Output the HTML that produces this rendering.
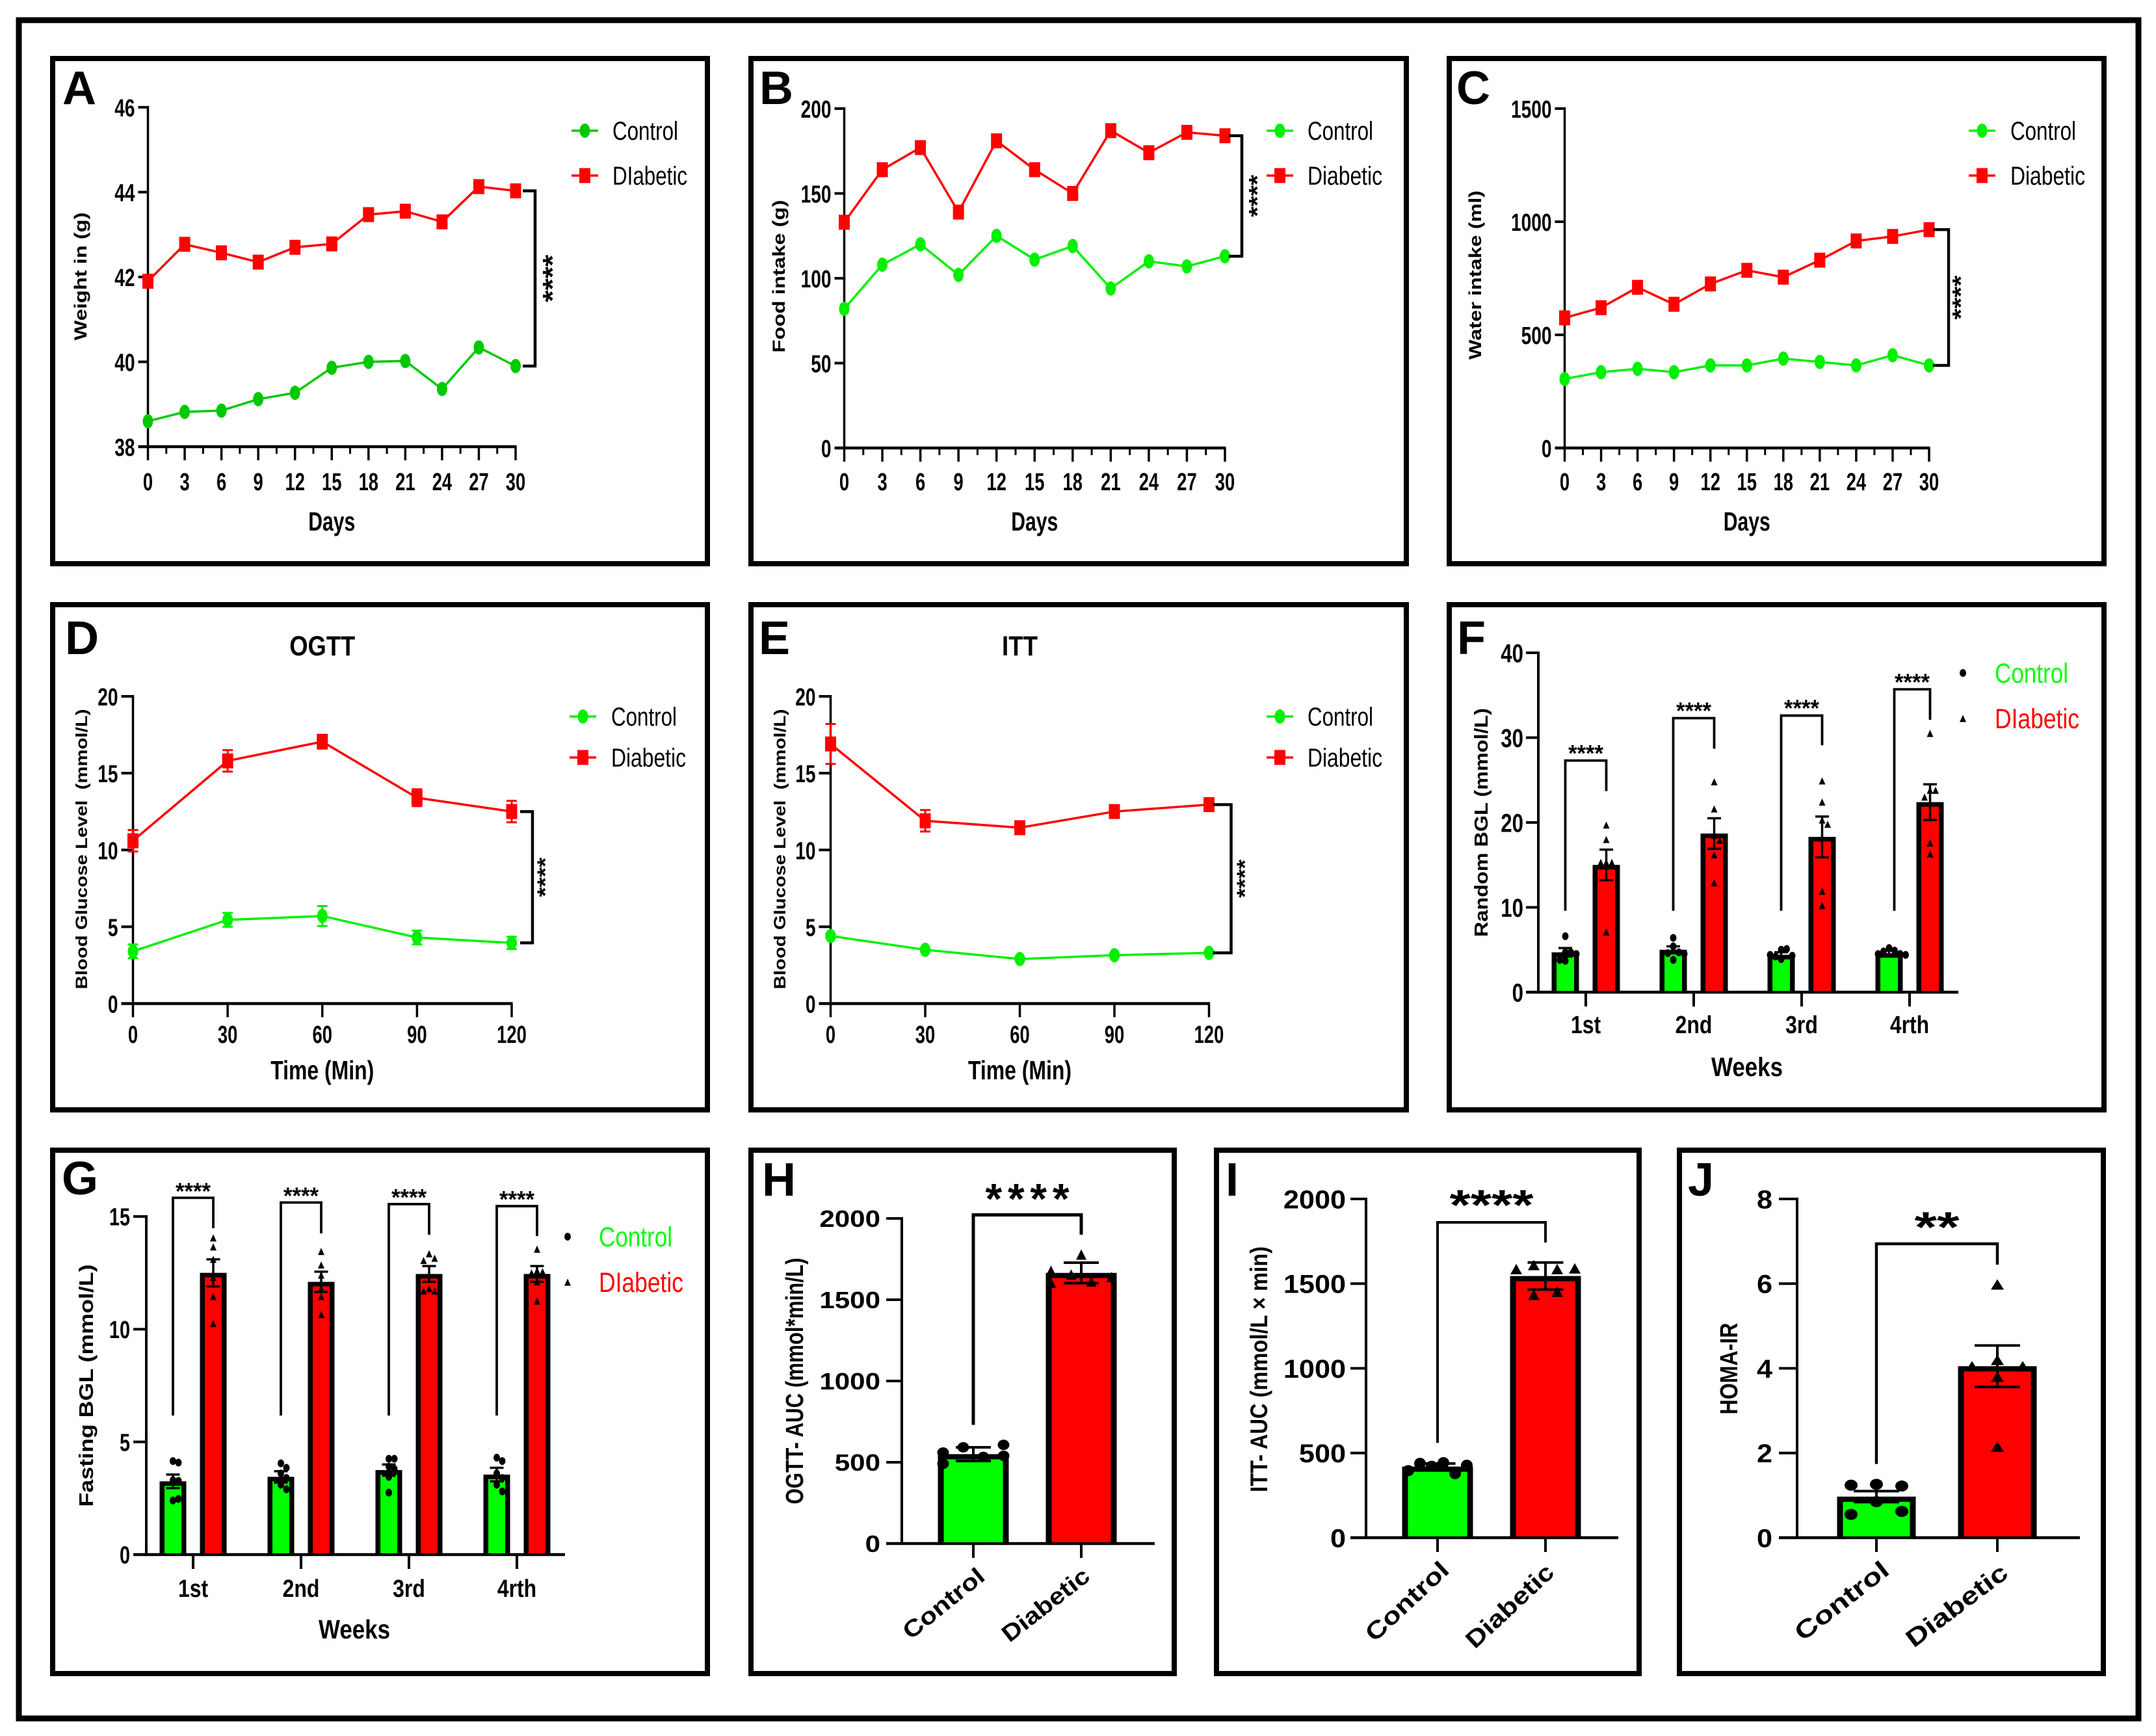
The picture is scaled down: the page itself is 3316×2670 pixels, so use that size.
<!DOCTYPE html>
<html lang="en">
<head>
<meta charset="utf-8">
<title>Diabetic versus control metabolic panels</title>
<style>
html,body{margin:0;padding:0;background:#fff;}
svg{display:block;}
text{font-family:"Liberation Sans",sans-serif;}
</style>
</head>
<body>
<svg id="fig" xmlns="http://www.w3.org/2000/svg" width="3316" height="2670" viewBox="0 0 3316 2670">
  <rect x="0" y="0" width="3316" height="2670" fill="#fff"/>
  <rect x="29" y="31" width="3260" height="2612" fill="none" stroke="#000" stroke-width="9"/>
  <rect x="81" y="90" width="1007" height="777" fill="none" stroke="#000" stroke-width="8"/>
  <rect x="1155" y="90" width="1008" height="777" fill="none" stroke="#000" stroke-width="8"/>
  <rect x="2229" y="90" width="1007" height="777" fill="none" stroke="#000" stroke-width="8"/>
  <rect x="81" y="930" width="1007" height="777" fill="none" stroke="#000" stroke-width="8"/>
  <rect x="1155" y="930" width="1008" height="777" fill="none" stroke="#000" stroke-width="8"/>
  <rect x="2229" y="930" width="1007" height="777" fill="none" stroke="#000" stroke-width="8"/>
  <rect x="81" y="1769" width="1007" height="805" fill="none" stroke="#000" stroke-width="8"/>
  <rect x="1155" y="1769" width="651" height="805" fill="none" stroke="#000" stroke-width="8"/>
  <rect x="1871" y="1769" width="650" height="805" fill="none" stroke="#000" stroke-width="8"/>
  <rect x="2583" y="1769" width="652" height="805" fill="none" stroke="#000" stroke-width="8"/>
</svg>
<script>
/* ---------- chart data ---------- */
const dayTicks = [0,3,6,9,12,15,18,21,24,27,30];
const minuteTicks = [0,30,60,90,120];
const weekLabels = ['1st','2nd','3rd','4rth'];

const weightTicks = [38,40,42,44,46];
const weightControl = [38.6,38.82,38.85,39.12,39.27,39.86,40.0,40.02,39.36,40.34,39.9];
const weightDiabetic = [41.9,42.77,42.57,42.35,42.7,42.78,43.47,43.55,43.3,44.13,44.03];

const foodTicks = [0,50,100,150,200];
const foodControl = [82,108,120,102,125,111,119,94,110,107,113];
const foodDiabetic = [133,164,177,139,181,164,150,187,174,186,184];

const waterTicks = [0,500,1000,1500];
const waterControl = [305,335,350,335,365,365,395,380,365,410,365];
const waterDiabetic = [575,620,710,635,725,785,755,830,915,935,965];

const glucoseTicks = [0,5,10,15,20];
const ogttControl = [3.4,5.45,5.7,4.3,3.95];
const ogttControlErr = [0.45,0.45,0.65,0.45,0.4];
const ogttDiabetic = [10.6,15.8,17.05,13.4,12.5];
const ogttDiabeticErr = [0.7,0.7,0.45,0.55,0.7];
const ittControl = [4.4,3.5,2.9,3.15,3.3];
const ittControlErr = [0.12,0.1,0.1,0.1,0.1];
const ittDiabetic = [16.9,11.9,11.45,12.5,12.95];
const ittDiabeticErr = [1.3,0.7,0.3,0.25,0.25];

const randomTicks = [0,10,20,30,40];
const randomControl = [4.7,5.0,4.4,4.6];
const randomControlErr = [0.5,0.4,0.3,0.3];
const randomDiabetic = [15,18.7,18.3,22.4];
const randomDiabeticErr = [1.8,1.8,2.4,2.1];
const randomControlPoints = [[6.6,4.7,4.7,3.8,3.7,4.5],[6.4,5.4,4.7,3.8,4.6,4.5],[5.0,5.1,4.2,4.3,4.4,3.9],[5.2,4.9,4.8,4.5,4.5,4.4]];
const randomDiabeticPoints = [[19.7,18,15.3,15.3,15.3,7.1],[24.8,21.6,18.5,17.9,16.2,12.9],[24.9,22.4,20.3,19.8,11.9,10.2],[30.5,23.8,23.8,23,17.6,16.3]];
const randomSigTop = [27.3,32.3,32.6,35.7];
const randomSigRight = [23.7,28.7,29.1,32.1];
const randomSigLeft = [9.6,9.6,9.6,9.6];

const fastingTicks = [0,5,10,15];
const fastingControl = [3.25,3.45,3.75,3.55];
const fastingControlErr = [0.3,0.25,0.25,0.3];
const fastingDiabetic = [12.5,12.1,12.45,12.45];
const fastingDiabeticErr = [0.6,0.45,0.35,0.35];
const fastingControlPoints = [[4.15,4.08,3.3,3.27,2.4,2.47],[4.05,3.85,3.6,3.4,3.1,2.9],[4.25,4.25,3.9,3.8,3.45,2.75],[4.3,4.15,3.6,3.4,3.1,2.8]];
const fastingDiabeticPoints = [[14.05,13.65,13.1,12.3,11.45,10.25],[13.45,12.85,12.4,11.8,11.45,10.65],[13.35,13.15,13.05,11.8,11.7,11.7],[13.55,12.6,12.55,12.5,12.1,11.25]];
const fastingSigTop = [15.83,15.62,15.55,15.46];
const fastingSigRight = [14.48,14.25,14.19,14.13];
const fastingSigLeft = [6.17,6.17,6.17,6.17];

const groupLabels = ['Control','Diabetic'];
const ogttAucTicks = [0,500,1000,1500,2000];
const ogttAucControl = [550];
const ogttAucControlErr = [42];
const ogttAucDiabetic = [1665];
const ogttAucDiabeticErr = [63];
const ogttAucControlPoints = [[607,592,560,540,533,491]];
const ogttAucDiabeticPoints = [[1778,1678,1655,1640,1613,1604]];

const ittAucTicks = [0,500,1000,1500,2000];
const ittAucControl = [420];
const ittAucControlErr = [18];
const ittAucDiabetic = [1545];
const ittAucDiabeticErr = [80];
const ittAucControlPoints = [[443,439,428,422,396,378]];
const ittAucDiabeticPoints = [[1610,1590,1586,1586,1452,1434]];

const homaTicks = [0,2,4,6,8];
const homaControl = [0.97];
const homaControlErr = [0.13];
const homaDiabetic = [4.05];
const homaDiabeticErr = [0.49];
const homaControlPoints = [[1.26,1.24,1.22,0.85,0.62,0.55]];
const homaDiabeticPoints = [[5.98,4.2,4.05,4.05,3.8,2.15]];

/* ---------- helpers ---------- */
const SVGNS = 'http://www.w3.org/2000/svg';
const root = document.getElementById('fig');

function mk(tag, name, parent, attrs) {
  const el = document.createElementNS(SVGNS, tag);
  
  
  for (const k in attrs) el.setAttribute(k, attrs[k]);
  parent.appendChild(el);
  return el;
}
function txt(parent, name, str, x, y, o) {
  o = o || {};
  const a = {
    'font-size': o.size || 36,
    'font-weight': o.weight || 'bold',
    'text-anchor': o.anchor || 'middle',
    fill: o.fill || '#000',
    transform: 'translate(' + x + ' ' + y + ') rotate(' + (o.rot || 0) + ') scale(' + (o.sx || 1) + ' 1)'
  };
  if (o.style) a['font-style'] = o.style;
  if (o.central) a['dominant-baseline'] = 'central';
  if (o.len) { a.textLength = o.len; a.lengthAdjust = o.adjust || 'spacingAndGlyphs'; }
  const el = mk('text', name, parent, a);
  el.textContent = str;
  return el;
}
function line(parent, name, x1, y1, x2, y2, w, color) {
  return mk('line', name, parent, {x1:x1, y1:y1, x2:x2, y2:y2, stroke:color || '#000', 'stroke-width':w});
}
function circle(parent, name, x, y, rx, ry, color) {
  return mk('ellipse', name, parent, {cx:x, cy:y, rx:rx, ry:ry, fill:color});
}
function square(parent, name, x, y, w, h, color) {
  return mk('rect', name, parent, {x:x - w/2, y:y - h/2, width:w, height:h, fill:color});
}
function triangle(parent, name, x, y, w, h, color) {
  return mk('polygon', name, parent, {points:(x - w/2) + ',' + (y + h/2) + ' ' + (x + w/2) + ',' + (y + h/2) + ' ' + x + ',' + (y - h/2), fill:color});
}
function linScale(d0, d1, r0, r1) {
  return function (v) { return r0 + (v - d0) / (d1 - d0) * (r1 - r0); };
}
function swarm(values, yS, step, gap) {
  const placed = [];
  return values.map(function (v) {
    const py = yS(v);
    const slots = [0, 1, -1, 2, -2, 3, -3];
    for (let i = 0; i < slots.length; i++) {
      const s = slots[i];
      const clash = placed.some(function (p) { return p.s === s && Math.abs(p.y - py) < gap; });
      if (!clash) { placed.push({s:s, y:py}); return s * step; }
    }
    return 0;
  });
}

/* ---------- line charts ---------- */
function drawLineChart(c) {
  const g = mk('g', 'panel-' + c.id, root, {});
  const xS = linScale(c.xTicks[0], c.xTicks[c.xTicks.length - 1], c.x0, c.x1);
  const yS = linScale(c.yTicks[0], c.yTicks[c.yTicks.length - 1], c.yBottom, c.yTop);
  txt(g, 'panel-letter-' + c.id, c.letter, c.letterX, c.letterY, {size:72, anchor:'start'});
  if (c.title) txt(g, 'chart-title', c.title, (c.x0 + c.x1) / 2, c.titleY, {size:43, len:c.titleLen});

  line(g, 'y-axis', c.x0, c.yTop - 2, c.x0, c.yBottom + 2, 3.5);
  line(g, 'x-axis', c.x0 - c.tick, c.yBottom, c.x1 + 1.5, c.yBottom, 4.5);
  c.yTicks.forEach(function (v) {
    line(g, 'y-tick', c.x0 - c.tick, yS(v), c.x0, yS(v), 4);
    txt(g, 'y-tick-label', String(v), c.x0 - c.tick - 5, yS(v) + 14, {size:38, anchor:'end', sx:0.74});
  });
  c.xTicks.forEach(function (v) {
    line(g, 'x-tick', xS(v), c.yBottom, xS(v), c.yBottom + 21, 3.5);
    txt(g, 'x-tick-label', String(v), xS(v), c.labelY, {size:38, sx:0.72});
  });
  if (c.minor) {
    for (let m = c.minor; m < c.xTicks[c.xTicks.length - 1]; m += c.minor * 2) {
      line(g, 'x-minor-tick', xS(m), c.yBottom, xS(m), c.yBottom + 11, 3);
    }
  }
  txt(g, 'x-axis-title', c.xTitle, (c.x0 + c.x1) / 2, c.xTitleY, {size:41, len:c.xTitleLen});
  txt(g, 'y-axis-title', c.yTitle, c.yTitleX, c.yTitleY, {size:c.yTitleSize || 27, rot:-90, len:c.yTitleLen});

  function series(name, vals, errs, color, isSquare) {
    const sg = mk('g', name + '-series', g, {});
    const pts = vals.map(function (v, i) { return xS(c.xTicks[i]) + ',' + yS(v); }).join(' ');
    mk('polyline', name + '-line', sg, {points:pts, fill:'none', stroke:color, 'stroke-width':3.5});
    vals.forEach(function (v, i) {
      const x = xS(c.xTicks[i]);
      if (errs) {
        line(sg, name + '-error-bar', x, yS(v - errs[i]), x, yS(v + errs[i]), 3, color);
        line(sg, name + '-error-cap', x - 8, yS(v + errs[i]), x + 8, yS(v + errs[i]), 3, color);
        line(sg, name + '-error-cap', x - 8, yS(v - errs[i]), x + 8, yS(v - errs[i]), 3, color);
      }
      if (isSquare) square(sg, name + '-marker', x, yS(v), 17, 23, color);
      else circle(sg, name + '-marker', x, yS(v), 8, 11, color);
    });
  }
  series('control', c.control, c.controlErr, c.green, false);
  series('diabetic', c.diabetic, c.diabeticErr, '#ff0000', true);

  const top = yS(c.diabetic[c.diabetic.length - 1]);
  const bot = yS(c.control[c.control.length - 1]);
  const bx0 = c.x1 + c.brNear, bx1 = c.x1 + c.brFar;
  mk('polyline', 'significance-bracket', g, {points:bx0 + ',' + top + ' ' + bx1 + ',' + top + ' ' + bx1 + ',' + bot + ' ' + bx0 + ',' + bot, fill:'none', stroke:'#000', 'stroke-width':4.5});
  txt(g, 'significance-stars', '****', c.starX, (top + bot) / 2 + c.starShift, {size:c.starSize, rot:-90, len:c.starLen});

  mk_legend(g, c);
}
function mk_legend(g, c) {
  const lg = mk('g', 'legend', g, {});
  const lx0 = c.legX, lx1 = c.legX + 41, mid = c.legX + 20.5;
  const e1 = mk('g', 'legend-entry-control', lg, {});
  line(e1, 'legend-line-control', lx0, c.legY1, lx1, c.legY1, 3.5, c.green);
  circle(e1, 'legend-marker-control', mid, c.legY1, 8, 11, c.green);
  txt(e1, 'legend-label-control', 'Control', c.legTextX, c.legY1 + 14, {size:40, weight:'normal', anchor:'start', len:101});
  const e2 = mk('g', 'legend-entry-diabetic', lg, {});
  line(e2, 'legend-line-diabetic', lx0, c.legY2, lx1, c.legY2, 3.5, '#ff0000');
  square(e2, 'legend-marker-diabetic', mid, c.legY2, 17, 23, '#ff0000');
  txt(e2, 'legend-label-diabetic', c.diabeticLabel || 'Diabetic', c.legTextX, c.legY2 + 14, {size:40, weight:'normal', anchor:'start', len:115});
}

drawLineChart({id:'a', letter:'A', letterX:96, letterY:160, x0:227.5, x1:793, yBottom:687, yTop:165,
  xTicks:dayTicks, yTicks:weightTicks, minor:1.5, tick:15, labelY:754,
  xTitle:'Days', xTitleY:816, xTitleLen:72,
  yTitle:'Weight in (g)', yTitleX:133, yTitleY:425, yTitleLen:197,
  control:weightControl, diabetic:weightDiabetic, green:'#00c800',
  brNear:11, brFar:30, starX:864, starShift:0, starSize:42, starLen:73,
  legX:879, legTextX:942, legY1:201, legY2:270, diabeticLabel:'DIabetic'});

drawLineChart({id:'b', letter:'B', letterX:1168, letterY:160, x0:1298.5, x1:1884, yBottom:689, yTop:167,
  xTicks:dayTicks, yTicks:foodTicks, minor:1.5, tick:15, labelY:754,
  xTitle:'Days', xTitleY:816, xTitleLen:72,
  yTitle:'Food intake (g)', yTitleX:1207, yTitleY:425, yTitleLen:235,
  control:foodControl, diabetic:foodDiabetic, green:'#00f000',
  brNear:6, brFar:26, starX:1946, starShift:0, starSize:36, starLen:65,
  legX:1948, legTextX:2011, legY1:201, legY2:270});

drawLineChart({id:'c', letter:'C', letterX:2240, letterY:160, x0:2406.5, x1:2967, yBottom:689, yTop:167,
  xTicks:dayTicks, yTicks:waterTicks, minor:1.5, tick:15, labelY:754,
  xTitle:'Days', xTitleY:816, xTitleLen:72,
  yTitle:'Water intake (ml)', yTitleX:2278, yTitleY:423, yTitleLen:260,
  control:waterControl, diabetic:waterDiabetic, green:'#00f000',
  brNear:6, brFar:30, starX:3028, starShift:0, starSize:36, starLen:68,
  legX:3028, legTextX:3092, legY1:201, legY2:270});

drawLineChart({id:'d', letter:'D', letterX:100, letterY:1006, x0:204.5, x1:787, yBottom:1543.5, yTop:1071,
  xTicks:minuteTicks, yTicks:glucoseTicks, tick:18, labelY:1604,
  title:'OGTT', titleY:1008, titleLen:101,
  xTitle:'Time (Min)', xTitleY:1660, xTitleLen:159,
  yTitle:'Blood Glucose Level\u00a0\u00a0(mmol/L)', yTitleX:134, yTitleY:1306, yTitleLen:431, yTitleSize:25,
  control:ogttControl, controlErr:ogttControlErr, diabetic:ogttDiabetic, diabeticErr:ogttDiabeticErr, green:'#00f000',
  brNear:13, brFar:32, starX:850, starShift:0, starSize:34, starLen:61,
  legX:876, legTextX:940, legY1:1102, legY2:1165});

drawLineChart({id:'e', letter:'E', letterX:1167, letterY:1006, x0:1277.5, x1:1859.5, yBottom:1543.5, yTop:1071,
  xTicks:minuteTicks, yTicks:glucoseTicks, tick:18, labelY:1604,
  title:'ITT', titleY:1008, titleLen:55,
  xTitle:'Time (Min)', xTitleY:1660, xTitleLen:159,
  yTitle:'Blood Glucose Level\u00a0\u00a0(mmol/L)', yTitleX:1208, yTitleY:1306, yTitleLen:431, yTitleSize:25,
  control:ittControl, controlErr:ittControlErr, diabetic:ittDiabetic, diabeticErr:ittDiabeticErr, green:'#00f000',
  brNear:6, brFar:34, starX:1926, starShift:0, starSize:34, starLen:59,
  legX:1948, legTextX:2011, legY1:1102, legY2:1165});

/* ---------- bar charts ---------- */
function drawBarChart(c) {
  const g = mk('g', 'panel-' + c.id, root, {});
  const yS = linScale(c.yTicks[0], c.yTicks[c.yTicks.length - 1], c.yBottom, c.yTop);
  const xS = function (i) { return c.tick0 + i * c.tickStep; };
  txt(g, 'panel-letter-' + c.id, c.letter, c.letterX, c.letterY, {size:72, anchor:'start'});

  line(g, 'y-axis', c.x0, c.yTop - 2, c.x0, c.yBottom, 4);
  line(g, 'x-axis', c.x0 - c.tick, c.yBottom, c.xEnd, c.yBottom, 4.5);
  c.yTicks.forEach(function (v) {
    line(g, 'y-tick', c.x0 - c.tick, yS(v), c.x0, yS(v), 4);
    txt(g, 'y-tick-label', String(v), c.tickRight, yS(v) + c.tickSize * 0.36, {size:c.tickSize, anchor:'end', sx:c.tickSx});
  });
  c.categories.forEach(function (label, i) {
    line(g, 'x-tick', xS(i), c.yBottom, xS(i), c.yBottom + 22, 4);
    if (c.rotated) {
      const r = c.rotated[i];
      txt(g, 'x-tick-label', label, r.x, r.y, {size:c.catSize, rot:r.rot, len:r.len, central:true});
    } else {
      txt(g, 'x-tick-label', label, xS(i), c.labelY, {size:38, sx:0.84});
    }
  });
  if (c.xTitle) txt(g, 'x-axis-title', c.xTitle, c.xTitleX, c.xTitleY, {size:41, len:110});
  txt(g, 'y-axis-title', c.yTitle, c.yTitleX, c.yTitleY, {size:c.yTitleSize, rot:-90, len:c.yTitleLen});

  c.series.forEach(function (s) {
    const sg = mk('g', s.name + '-bars', g, {});
    s.means.forEach(function (v, k) {
      const i = k + (s.cat || 0);
      const cx = xS(i) + s.off;
      const top = yS(v);
      const bg = mk('g', s.name + '-bar-group-' + i, sg, {});
      square(bg, s.name + '-bar-outline', cx, (top + c.yBottom) / 2, c.barW, c.yBottom - top, '#000');
      mk('rect', s.name + '-bar', bg, {x:cx - c.barW / 2 + c.border, y:top + c.borderTop, width:c.barW - 2 * c.border, height:Math.max(0, c.yBottom - top - c.borderTop - 2), fill:s.color});
      const offs = s.slots
        ? s.points[k].map(function (p, n) { return s.slots[n % s.slots.length] * c.swarmStep; })
        : swarm(s.points[k], yS, c.swarmStep, c.swarmGap);
      s.points[k].forEach(function (p, n) {
        if (s.mark === 'circle') circle(bg, s.name + '-point', cx + offs[n], yS(p), c.dotRx, c.dotRy, '#000');
        else triangle(bg, s.name + '-point', cx + offs[n], yS(p), c.triW, c.triH, '#000');
      });
      line(bg, s.name + '-error-bar', cx, yS(v - s.errs[k]), cx, yS(v + s.errs[k]), c.errW || 3.5);
      line(bg, s.name + '-error-cap', cx - c.capW / 2, yS(v + s.errs[k]), cx + c.capW / 2, yS(v + s.errs[k]), c.errW || 3.5);
      line(bg, s.name + '-error-cap', cx - c.capW / 2, yS(v - s.errs[k]), cx + c.capW / 2, yS(v - s.errs[k]), c.errW || 3.5);
    });
  });

  c.sig.tops.forEach(function (t, i) {
    const xl = c.sig.xl(i, xS), xr = c.sig.xr(i, xS);
    mk('polyline', 'significance-bracket', g, {points:xl + ',' + yS(c.sig.lefts[i]) + ' ' + xl + ',' + yS(t) + ' ' + xr + ',' + yS(t) + ' ' + xr + ',' + yS(c.sig.rights[i]), fill:'none', stroke:'#000', 'stroke-width':c.sig.w});
    const so = {size:c.sig.size, len:c.sig.len};
    if (c.sig.adjust) so.adjust = c.sig.adjust;
    txt(g, 'significance-stars', c.sig.text, (xl + xr) / 2, yS(t) - c.sig.gap + c.sig.size * 0.56, so);
  });

  if (c.legend) {
    const lg = mk('g', 'legend', g, {});
    const e1 = mk('g', 'legend-entry-control', lg, {});
    circle(e1, 'legend-marker-control', c.legend.mx, c.legend.y1, 5, 6, '#000');
    txt(e1, 'legend-label-control', 'Control', c.legend.tx, c.legend.y1 + 15, {size:43, weight:'normal', anchor:'start', fill:'#00ff00', len:113});
    const e2 = mk('g', 'legend-entry-diabetic', lg, {});
    triangle(e2, 'legend-marker-diabetic', c.legend.mx, c.legend.y2, 10, 11, '#000');
    txt(e2, 'legend-label-diabetic', 'DIabetic', c.legend.tx, c.legend.y2 + 15, {size:43, weight:'normal', anchor:'start', fill:'#ff0000', len:130});
  }
}

drawBarChart({id:'f', letter:'F', letterX:2241, letterY:1006, x0:2366, xEnd:3012, yBottom:1526, yTop:1004, tick:19,
  yTicks:randomTicks, tickRight:2343, tickSize:40, tickSx:0.78,
  categories:weekLabels, tick0:2439, tickStep:166, labelY:1589,
  xTitle:'Weeks', xTitleX:2687, xTitleY:1655,
  yTitle:'Random BGL (mmol/L)', yTitleX:2288, yTitleY:1265, yTitleLen:352, yTitleSize:29,
  barW:42, border:7.5, borderTop:7, swarmStep:8.5, swarmGap:12, dotRx:5, dotRy:6, triW:10, triH:11, capW:21,
  series:[
    {name:'control', means:randomControl, errs:randomControlErr, points:randomControlPoints, color:'#00ff00', mark:'circle', off:-31.5},
    {name:'diabetic', means:randomDiabetic, errs:randomDiabeticErr, points:randomDiabeticPoints, color:'#ff0000', mark:'triangle', off:31.5}
  ],
  sig:{tops:randomSigTop, rights:randomSigRight, lefts:randomSigLeft, text:'****', size:36, len:54, gap:19, w:3.8,
    xl:function(i,x){return x(i)-31.5+(i===3?8:0);}, xr:function(i,x){return x(i)+31.5;}},
  legend:{mx:3019, y1:1035, y2:1105, tx:3068}});

drawBarChart({id:'g', letter:'G', letterX:95, letterY:1837, x0:225, xEnd:869, yBottom:2391, yTop:1871, tick:20,
  yTicks:fastingTicks, tickRight:200, tickSize:38, tickSx:0.76,
  categories:weekLabels, tick0:297, tickStep:166, labelY:2456,
  xTitle:'Weeks', xTitleX:545, xTitleY:2520,
  yTitle:'Fasting BGL (mmol/L)', yTitleX:143, yTitleY:2131, yTitleLen:373, yTitleSize:31,
  barW:41, border:7.5, borderTop:7, swarmStep:8.5, swarmGap:12, dotRx:5, dotRy:6, triW:10, triH:11, capW:21,
  series:[
    {name:'control', means:fastingControl, errs:fastingControlErr, points:fastingControlPoints, color:'#00ff00', mark:'circle', off:-31},
    {name:'diabetic', means:fastingDiabetic, errs:fastingDiabeticErr, points:fastingDiabeticPoints, color:'#ff0000', mark:'triangle', off:31}
  ],
  sig:{tops:fastingSigTop, rights:fastingSigRight, lefts:fastingSigLeft, text:'****', size:36, len:54, gap:18, w:3.8,
    xl:function(i,x){return x(i)-31;}, xr:function(i,x){return x(i)+31;}},
  legend:{mx:873, y1:1902, y2:1972, tx:921}});

drawBarChart({id:'h', letter:'H', letterX:1172, letterY:1839, x0:1387, xEnd:1776, yBottom:2374, yTop:1874, tick:24,
  yTicks:ogttAucTicks, tickRight:1354, tickSize:36, tickSx:1.17,
  categories:groupLabels, tick0:1497, tickStep:166,
  rotated:[{x:1451,y:2466,rot:-39,len:150},{x:1608,y:2468,rot:-38,len:160}], catSize:36,
  yTitle:'OGTT- AUC (mmol*min/L)', yTitleX:1235, yTitleY:2124, yTitleLen:379, yTitleSize:38,
  barW:109, border:9, borderTop:8, swarmStep:15.5, swarmGap:32, dotRx:9, dotRy:8, triW:16, triH:16, capW:54, errW:4,
  series:[
    {name:'control', means:ogttAucControl, errs:ogttAucControlErr, points:ogttAucControlPoints, color:'#00ff00', mark:'circle', off:0, cat:0, slots:[3,-1,-3,3,1,-3]},
    {name:'diabetic', means:ogttAucDiabetic, errs:ogttAucDiabeticErr, points:ogttAucDiabeticPoints, color:'#ff0000', mark:'triangle', off:0, cat:1, slots:[0,-3,-1,3,1,-3]}
  ],
  sig:{tops:[2022], rights:[1900], lefts:[730], text:'****', size:66, len:129, gap:39, w:5, adjust:'spacing',
    xl:function(i,x){return x(0);}, xr:function(i,x){return x(1);}}});

drawBarChart({id:'i', letter:'I', letterX:1885, letterY:1839, x0:2101, xEnd:2489, yBottom:2365, yTop:1844, tick:24,
  yTicks:ittAucTicks, tickRight:2070, tickSize:40, tickSx:1.08,
  categories:groupLabels, tick0:2211, tickStep:166,
  rotated:[{x:2164,y:2463,rot:-43,len:160},{x:2322,y:2470,rot:-43,len:170}], catSize:37,
  yTitle:'ITT- AUC (mmol/L × min)', yTitleX:1949, yTitleY:2106, yTitleLen:378, yTitleSize:37,
  barW:109, border:9, borderTop:8, swarmStep:9, swarmGap:24, dotRx:9, dotRy:8.5, triW:18, triH:16, capW:55, errW:4,
  series:[
    {name:'control', means:ittAucControl, errs:ittAucControlErr, points:ittAucControlPoints, color:'#00ff00', mark:'circle', off:0, cat:0, slots:[1,-3,5,-1,-5,3]},
    {name:'diabetic', means:ittAucDiabetic, errs:ittAucDiabeticErr, points:ittAucDiabeticPoints, color:'#ff0000', mark:'triangle', off:0, cat:1, slots:[-2,5,-5,2,2,-2]}
  ],
  sig:{tops:[1862], rights:[1743], lefts:[560], text:'****', size:66, len:129, gap:41, w:4,
    xl:function(i,x){return x(0);}, xr:function(i,x){return x(1);}}});

drawBarChart({id:'j', letter:'J', letterX:2596, letterY:1839, x0:2764, xEnd:3199, yBottom:2365, yTop:1844, tick:28,
  yTicks:homaTicks, tickRight:2726, tickSize:40, tickSx:1.08,
  categories:groupLabels, tick0:2886, tickStep:186,
  rotated:[{x:2833,y:2463,rot:-38,len:172},{x:3010,y:2470,rot:-37,len:185}], catSize:38,
  yTitle:'HOMA-IR', yTitleX:2672, yTitleY:2105, yTitleLen:141, yTitleSize:38,
  barW:121, border:9, borderTop:8, swarmStep:39, swarmGap:26, dotRx:10, dotRy:8.5, triW:20, triH:16, capW:70, errW:4,
  series:[
    {name:'control', means:homaControl, errs:homaControlErr, points:homaControlPoints, color:'#00ff00', mark:'circle', off:0, cat:0, slots:[0,-1,1,0,1,-1]},
    {name:'diabetic', means:homaDiabetic, errs:homaDiabeticErr, points:homaDiabeticPoints, color:'#ff0000', mark:'triangle', off:0, cat:1, slots:[0,0,-1,1,0,0]}
  ],
  sig:{tops:[6.94], rights:[6.45], lefts:[1.74], text:'**', size:66, len:69, gap:40, w:4.5,
    xl:function(i,x){return x(0);}, xr:function(i,x){return x(1);}}});
</script>
</body>
</html>
